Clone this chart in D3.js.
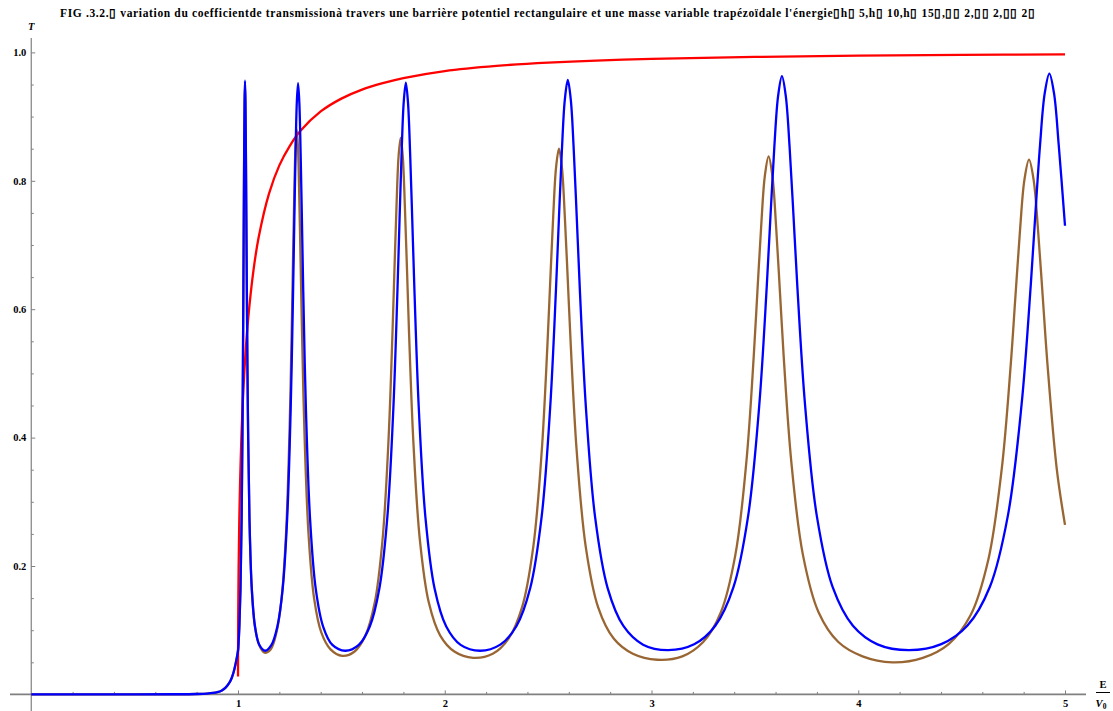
<!DOCTYPE html>
<html><head><meta charset="utf-8">
<script src="https://cdn.jsdelivr.net/npm/d3@7"></script>
<style>
html,body{margin:0;padding:0;background:#fff;}
svg{display:block;}
text{font-family:"Liberation Serif","Times New Roman",serif;font-weight:bold;}
</style></head>
<body>
<script>
// ---------- data ----------
const title = "FIG .3.2.\u25AF variation du coefficientde transmissionà travers une barrière potentiel rectangulaire et une masse variable  trapézoïdale l'énergie\u25AFh\u25AF 5,h\u25AF 10,h\u25AF 15\u25AF,\u25AF\u25AF 2,\u25AF\u25AF 2,\u25AF\u25AF 2\u25AF";
const xMajorTicks = [1, 2, 3, 4, 5];
const yMajorTicks = [0.2, 0.4, 0.6, 0.8, 1.0];

// common part below the barrier top (E/V0 < 1)
const belowE = [0, 0.5, 0.7, 0.8, 0.85, 0.88, 0.9, 0.92, 0.94, 0.96, 0.97, 0.98, 0.99, 1.0];
const belowT = [0, 0, 0.0002, 0.0006, 0.0012, 0.0022, 0.0035, 0.0058, 0.0105, 0.019, 0.026, 0.036, 0.05, 0.068];

// red curve
const redE = [1.00005, 1.0003, 1.001, 1.003, 1.006, 1.01, 1.02, 1.035, 1.05, 1.075, 1.1, 1.15, 1.2, 1.25, 1.3, 1.4, 1.5, 1.6, 1.7, 1.8, 2.0, 2.25, 2.5, 3.0, 3.5, 4.0, 4.5, 5.0];
const redT = [0.028, 0.067, 0.119, 0.197, 0.266, 0.329, 0.431, 0.525, 0.588, 0.661, 0.712, 0.780, 0.824, 0.854, 0.877, 0.908, 0.928, 0.942, 0.952, 0.960, 0.971, 0.979, 0.984, 0.990, 0.993, 0.995, 0.996, 0.997];

// blue curve (E > 1)
const blueE = [
 1.00224, 1.00663, 1.01208, 1.01761, 1.02244, 1.02599, 1.02786, 1.02979, 1.03179, 1.03386,
 1.03599, 1.03818, 1.04044, 1.04277, 1.04761, 1.05537, 1.06662, 1.08214, 1.10285, 1.13177,
 1.16185, 1.19044, 1.21613, 1.23785, 1.25482, 1.26646, 1.27238, 1.27836, 1.28441, 1.29052,
 1.2967, 1.30294, 1.30925, 1.31562, 1.32856, 1.34845, 1.37589, 1.41165, 1.45657, 1.5184,
 1.58415, 1.63744, 1.68376, 1.72199, 1.75134, 1.77123, 1.78128, 1.79139, 1.80156, 1.8118,
 1.8221, 1.83247, 1.84291, 1.85341, 1.8746, 1.90687, 1.9508, 2.00721, 2.07682, 2.17072,
 2.26855, 2.34653, 2.41348, 2.46822, 2.50995, 2.5381, 2.55227, 2.5665, 2.5808, 2.59517,
 2.6096, 2.6241, 2.63866, 2.65328, 2.68273, 2.72738, 2.78784, 2.86486, 2.95916, 3.0808,
 3.20612, 3.30858, 3.39599, 3.4671, 3.52111, 3.55744, 3.5757, 3.59403, 3.61243, 3.63088,
 3.64941, 3.668, 3.68665, 3.70537, 3.743, 3.79993, 3.87676, 3.97425, 4.09303, 4.2454,
 4.40144, 4.52839, 4.63627, 4.72374, 4.79003, 4.83455, 4.8569, 4.87932, 4.90181, 4.92436,
 4.94698, 4.96966, 5.0];
const blueT = [
 0.0774, 0.1061, 0.1654, 0.2753, 0.4465, 0.631, 0.741, 0.846, 0.925, 0.956,
 0.925, 0.846, 0.741, 0.631, 0.4465, 0.2753, 0.1654, 0.1061, 0.0774, 0.068,
 0.0771, 0.1057, 0.1647, 0.274, 0.4446, 0.628, 0.738, 0.8425, 0.9215, 0.952,
 0.9215, 0.8425, 0.738, 0.628, 0.4446, 0.274, 0.1647, 0.1057, 0.0771, 0.068,
 0.0772, 0.1058, 0.1649, 0.2745, 0.445, 0.629, 0.7386, 0.8434, 0.9225, 0.953,
 0.9225, 0.8434, 0.7386, 0.629, 0.445, 0.2745, 0.1649, 0.1058, 0.0772, 0.068,
 0.0775, 0.1062, 0.1656, 0.2756, 0.4469, 0.6316, 0.7417, 0.8469, 0.9264, 0.957,
 0.9264, 0.8469, 0.7417, 0.6316, 0.4469, 0.2756, 0.1656, 0.1062, 0.0775, 0.069,
 0.078, 0.1069, 0.1666, 0.2773, 0.4497, 0.6356, 0.7463, 0.8523, 0.9322, 0.963,
 0.9322, 0.8523, 0.7463, 0.6356, 0.4497, 0.2773, 0.1666, 0.1069, 0.078, 0.069,
 0.0783, 0.1073, 0.1673, 0.2785, 0.4516, 0.6382, 0.7494, 0.8558, 0.9361, 0.967,
 0.9361, 0.8558, 0.73];

// brown curve (E > 1)
const brownE = [
 1.00224, 1.00663, 1.01208, 1.01761, 1.02244, 1.02599, 1.02786, 1.02979, 1.03179, 1.03386,
 1.03599, 1.03818, 1.04044, 1.04277, 1.04761, 1.05537, 1.06662, 1.08214, 1.10285, 1.128,
 1.15761, 1.18576, 1.21096, 1.23232, 1.249, 1.26041, 1.26626, 1.27217, 1.27805, 1.28409,
 1.2902, 1.29626, 1.3025, 1.3088, 1.32149, 1.34106, 1.36808, 1.40323, 1.44756, 1.5041,
 1.564, 1.61623, 1.66146, 1.6989, 1.72761, 1.74701, 1.7569, 1.76685, 1.77669, 1.78677,
 1.79691, 1.80694, 1.81722, 1.82755, 1.84824, 1.87984, 1.92294, 1.97812, 2.04653, 2.13742,
 2.2321, 2.30874, 2.37429, 2.42803, 2.46894, 2.49646, 2.51044, 2.52448, 2.53834, 2.55252,
 2.56675, 2.5808, 2.59517, 2.6096, 2.6384, 2.68221, 2.74161, 2.8171, 2.90992, 3.02778,
 3.14916, 3.25, 3.3357, 3.4056, 3.45862, 3.49419, 3.51223, 3.53033, 3.5482, 3.5664,
 3.5847, 3.60274, 3.62116, 3.63965, 3.6765, 3.73241, 3.80797, 3.90362, 4.02064, 4.16484,
 4.3124, 4.43732, 4.54305, 4.62903, 4.69408, 4.73765, 4.75972, 4.78186, 4.80367, 4.82594,
 4.84827, 4.87027, 4.89273, 4.91525, 4.9601, 5.0];
const brownT = [
 0.077, 0.105, 0.164, 0.273, 0.443, 0.626, 0.736, 0.84, 0.918, 0.95,
 0.918, 0.84, 0.736, 0.626, 0.443, 0.273, 0.164, 0.105, 0.0765, 0.065,
 0.0701, 0.0961, 0.1496, 0.2503, 0.4072, 0.5769, 0.6791, 0.777, 0.8517, 0.88,
 0.8517, 0.777, 0.6791, 0.5769, 0.4072, 0.2503, 0.1496, 0.0961, 0.0701, 0.060,
 0.0668, 0.0916, 0.143, 0.2401, 0.3933, 0.5611, 0.6634, 0.7621, 0.8381, 0.867,
 0.8381, 0.7621, 0.6634, 0.5611, 0.3933, 0.2401, 0.143, 0.0916, 0.0668, 0.057,
 0.0633, 0.087, 0.136, 0.2294, 0.3781, 0.5432, 0.6449, 0.7439, 0.8207, 0.85,
 0.8207, 0.7439, 0.6449, 0.5432, 0.3781, 0.2294, 0.136, 0.087, 0.0633, 0.054,
 0.0593, 0.0816, 0.128, 0.2173, 0.3615, 0.5249, 0.6273, 0.7284, 0.8075, 0.838,
 0.8075, 0.7284, 0.6273, 0.5249, 0.3615, 0.2173, 0.128, 0.0816, 0.0593, 0.050,
 0.0569, 0.0783, 0.1232, 0.2098, 0.3514, 0.5141, 0.6174, 0.7203, 0.8015, 0.833,
 0.8015, 0.7203, 0.6174, 0.5141, 0.3514, 0.264];

// ---------- drawing ----------
const W = 1113, H = 711;
const svg = d3.select("body").append("svg").attr("width", W).attr("height", H);

const x = d3.scaleLinear().domain([0, 5]).range([31.25, 1065]);
const y = d3.scaleLinear().domain([0, 1]).range([694.4, 52.4]);

const axisColor = "#808080";

// axis lines (extend a little past the plot range, Mathematica style)
svg.append("line").attr("x1", 10).attr("x2", 1086).attr("y1", y(0)).attr("y2", y(0))
  .attr("stroke", axisColor).attr("stroke-width", 1.6);
svg.append("line").attr("x1", x(0)).attr("x2", x(0)).attr("y1", 38).attr("y2", 711)
  .attr("stroke", axisColor).attr("stroke-width", 1.2);

// x ticks
const xMinor = d3.range(0, 5.001, 0.2).filter(v => Math.abs(v - Math.round(v)) > 1e-6);
const gxMinor = svg.append("g").attr("transform", `translate(0,${y(0)})`)
  .call(d3.axisBottom(x).tickValues(xMinor).tickSize(-2.5).tickFormat(""));
const gx = svg.append("g").attr("transform", `translate(0,${y(0)})`)
  .call(d3.axisBottom(x).tickValues(xMajorTicks).tickSize(-4).tickPadding(5).tickFormat(d3.format("d")));
[gx, gxMinor].forEach(g => {
  g.select(".domain").remove();
  g.selectAll(".tick line").attr("stroke", axisColor).attr("stroke-width", 1);
});
gx.selectAll(".tick text").attr("fill", "#000").attr("font-size", 10.5)
  .attr("font-family", "Liberation Serif").attr("font-weight", "bold");

// y ticks
const yMinor = d3.range(0.05, 1.0001, 0.05).filter(v => Math.abs(v * 5 - Math.round(v * 5)) > 1e-6);
const gyMinor = svg.append("g").attr("transform", `translate(${x(0)},0)`)
  .call(d3.axisLeft(y).tickValues(yMinor).tickSize(-2.5).tickFormat(""));
const gy = svg.append("g").attr("transform", `translate(${x(0)},0)`)
  .call(d3.axisLeft(y).tickValues(yMajorTicks).tickSize(-4).tickPadding(5).tickFormat(d3.format(".1f")));
[gy, gyMinor].forEach(g => {
  g.select(".domain").remove();
  g.selectAll(".tick line").attr("stroke", axisColor).attr("stroke-width", 1);
});
gy.selectAll(".tick text").attr("fill", "#000").attr("font-size", 10.5)
  .attr("font-family", "Liberation Serif").attr("font-weight", "bold");

// curves
const line = d3.line().x(d => x(d[0])).y(d => y(d[1])).curve(d3.curveCatmullRom.alpha(0.5));
const zip = (a, b) => a.map((v, i) => [v, b[i]]);
const brownData = zip(belowE.concat(brownE), belowT.concat(brownT));
const redData = zip(redE, redT);
const blueData = zip(belowE.concat(blueE), belowT.concat(blueT));

svg.append("path").datum(brownData).attr("d", line)
  .attr("fill", "none").attr("stroke", "#996633").attr("stroke-width", 2.3).attr("stroke-linejoin", "round");
svg.append("path").datum(redData).attr("d", line)
  .attr("fill", "none").attr("stroke", "#ff0000").attr("stroke-width", 2.3).attr("stroke-linejoin", "round");
svg.append("path").datum(blueData).attr("d", line)
  .attr("fill", "none").attr("stroke", "#0000ff").attr("stroke-width", 2.3).attr("stroke-linejoin", "round");

// axis labels
svg.append("text").attr("x", x(0)).attr("y", 30).attr("text-anchor", "middle")
  .attr("font-size", 10.5).attr("font-style", "italic").text("T");
svg.append("text").attr("x", 1103).attr("y", 688).attr("text-anchor", "middle")
  .attr("font-size", 10.5).text("E");
svg.append("line").attr("x1", 1096).attr("x2", 1110).attr("y1", 692.5).attr("y2", 692.5)
  .attr("stroke", "#000").attr("stroke-width", 1);
const v0 = svg.append("text").attr("x", 1101).attr("y", 707).attr("text-anchor", "middle")
  .attr("font-size", 10.5);
v0.append("tspan").attr("font-style", "italic").text("V");
v0.append("tspan").attr("font-size", 7.5).attr("dy", 2).text("0");

// title
svg.append("text").attr("x", 60).attr("y", 17).attr("font-size", 11.5)
  .attr("textLength", 975).attr("lengthAdjust", "spacing").text(title);
</script>
</body></html>
